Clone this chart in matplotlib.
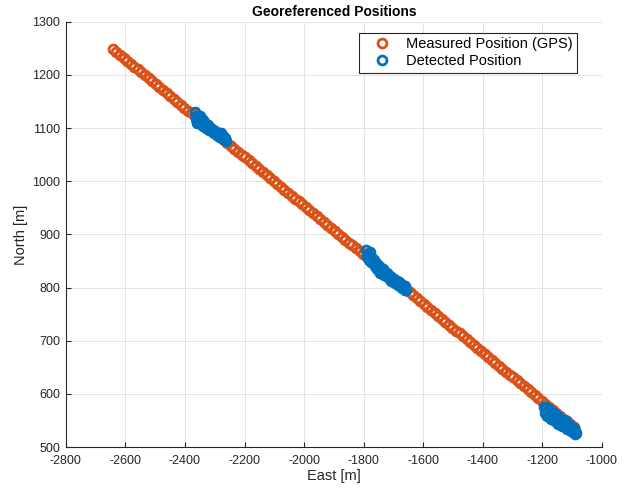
import matplotlib
matplotlib.use("Agg")
import matplotlib.pyplot as plt

plt.rcParams['font.family'] = ['Liberation Sans', 'DejaVu Sans']
plt.rcParams['axes.unicode_minus'] = False

# GPS track (East, North) in metres
gps_east = [
    -2642, -2630, -2618, -2606, -2594, -2582, -2570, -2558, -2546, -2534,
    -2522, -2510, -2498, -2486, -2474, -2462, -2450, -2438, -2426, -2414,
    -2402, -2390, -2378, -2366, -2354, -2342, -2330, -2318, -2306, -2294,
    -2282, -2270, -2258, -2246, -2234, -2222, -2210, -2198, -2186, -2174,
    -2162, -2150, -2138, -2126, -2114, -2102, -2090, -2078, -2066, -2054,
    -2042, -2030, -2018, -2006, -1994, -1982, -1970, -1958, -1946, -1934,
    -1922, -1910, -1898, -1886, -1874, -1862, -1850, -1838, -1826, -1814,
    -1802, -1790, -1778, -1766, -1754, -1742, -1730, -1718, -1706, -1694,
    -1682, -1670, -1658, -1646, -1634, -1622, -1610, -1598, -1586, -1574,
    -1562, -1550, -1538, -1526, -1514, -1502, -1490, -1478, -1466, -1454,
    -1442, -1430, -1418, -1406, -1394, -1382, -1370, -1358, -1346, -1334,
    -1322, -1310, -1298, -1286, -1274, -1262, -1250, -1238, -1226, -1214,
    -1202, -1190, -1178, -1166, -1154, -1142, -1130, -1118, -1106, -1094,
]
gps_north = [
    1249.0, 1243.5, 1238.0, 1232.4, 1226.9, 1221.4, 1215.9, 1210.4, 1204.8, 1199.3,
    1193.8, 1188.3, 1182.8, 1177.2, 1171.7, 1166.2, 1160.7, 1155.2, 1149.6, 1144.1,
    1138.6, 1133.1, 1127.6, 1122.0, 1116.5, 1111.0, 1105.5, 1100.0, 1094.4, 1088.9,
    1083.4, 1077.9, 1072.4, 1066.8, 1061.3, 1055.8, 1050.3, 1044.8, 1039.2, 1033.7,
    1028.2, 1022.7, 1017.2, 1011.6, 1006.1, 1000.6, 995.1, 989.6, 984.0, 978.5,
    973.0, 967.5, 962.0, 956.4, 950.9, 945.4, 939.9, 934.4, 928.8, 923.3,
    917.8, 912.3, 906.8, 901.2, 895.7, 890.2, 884.7, 879.2, 873.6, 868.1,
    862.6, 857.1, 851.6, 846.0, 840.5, 835.0, 829.5, 824.0, 818.4, 812.9,
    807.4, 801.9, 796.4, 790.8, 785.3, 779.8, 774.3, 768.8, 763.2, 757.7,
    752.2, 746.7, 741.2, 735.6, 730.1, 724.6, 719.1, 713.6, 708.0, 702.5,
    697.0, 691.5, 686.0, 680.4, 674.9, 669.4, 663.9, 658.4, 652.8, 647.3,
    641.8, 636.3, 630.8, 625.2, 619.7, 614.2, 608.7, 603.2, 597.6, 592.1,
    586.6, 581.1, 575.6, 570.0, 564.5, 559.0, 553.5, 548.0, 542.4, 536.9,
]

# detected positions, three passes
det_east_1 = [-2366, -2363, -2361, -2358, -2356, -2353, -2351, -2348, -2346, -2343,
              -2341, -2338, -2336, -2333, -2331, -2328, -2325, -2322, -2319, -2316,
              -2313, -2310, -2307, -2304, -2301, -2298, -2295, -2292, -2289, -2286,
              -2283, -2280, -2277, -2274, -2271, -2268, -2265, -2262]
det_north_1 = [1130, 1117, 1122, 1110, 1123, 1116, 1109, 1123, 1111, 1116,
               1104, 1115, 1105, 1108, 1101, 1108, 1101, 1105, 1097, 1101,
               1097, 1099, 1092, 1095, 1090, 1094, 1088, 1090, 1085, 1091,
               1084, 1091, 1084, 1079, 1085, 1079, 1081, 1075]

det_east_2 = [-1792, -1789, -1786, -1783, -1780, -1777, -1774, -1771, -1768, -1765,
              -1762, -1759, -1756, -1753, -1750, -1747, -1744, -1741, -1738, -1735,
              -1732, -1729, -1726, -1723, -1720, -1717, -1714, -1711, -1708, -1705,
              -1702, -1699, -1696, -1693, -1690, -1687, -1684, -1681, -1678, -1675,
              -1672, -1669, -1666, -1663, -1660, -1657]
det_north_2 = [870, 859, 864, 851, 866, 856, 849, 856, 849, 852,
               840, 846, 834, 841, 834, 841, 828, 835, 830, 835,
               823, 828, 823, 828, 819, 822, 818, 822, 812, 817,
               814, 817, 809, 812, 808, 812, 804, 811, 804, 807,
               800, 803, 799, 802, 795, 796]

det_east_3 = [-1194, -1191, -1188, -1185, -1182, -1179, -1176, -1173, -1170, -1167,
              -1164, -1161, -1158, -1155, -1152, -1149, -1146, -1143, -1140, -1137,
              -1134, -1131, -1128, -1125, -1122, -1119, -1116, -1113, -1110, -1107,
              -1104, -1101, -1098, -1095, -1092, -1089, -1086]
det_north_3 = [576, 564, 576, 559, 567, 571, 557, 562, 553, 565,
               555, 564, 549, 558, 549, 559, 544, 551, 545, 553,
               540, 548, 539, 550, 537, 541, 533, 543, 534, 542,
               530, 535, 528, 535, 525, 531, 526]

det_east = det_east_1 + det_east_2 + det_east_3
det_north = det_north_1 + det_north_2 + det_north_3

x_ticks = [-2800, -2600, -2400, -2200, -2000, -1800, -1600, -1400, -1200, -1000]
y_ticks = [500, 600, 700, 800, 900, 1000, 1100, 1200, 1300]

orange = '#D95319'
blue = '#0072BD'
axis_col = '#262626'

fig = plt.figure(figsize=(6.33, 4.91), dpi=100)
ax = fig.add_axes([0.104, 0.0896, 0.847, 0.866])

ax.plot(gps_east, gps_north, 'o', color=orange, mfc='none', ms=6.4, mew=2.0,
        linestyle='none', label='Measured Position (GPS)')
ax.plot(det_east, det_north, 'o', color=blue, mfc='none', ms=6.4, mew=2.0,
        linestyle='none', label='Detected Position')

ax.set_xlim(-2800, -1000)
ax.set_ylim(500, 1300)
ax.set_xticks(x_ticks)
ax.set_yticks(y_ticks)

ax.grid(True, color='#E3E3E3', linewidth=0.7)
ax.set_axisbelow(True)
for side in ['top', 'right']:
    ax.spines[side].set_visible(False)
for side in ['left', 'bottom']:
    ax.spines[side].set_color(axis_col)
    ax.spines[side].set_linewidth(0.8)
ax.tick_params(direction='in', length=3.6, width=0.8, colors=axis_col, labelsize=9)
ax.tick_params(axis='x', pad=6)
ax.tick_params(axis='y', pad=4)

ax.set_xlabel('East [m]', fontsize=10.5, color=axis_col, labelpad=1)
ax.set_ylabel('North [m]', fontsize=10.5, color=axis_col, labelpad=3)
ax.set_title('Georeferenced Positions', fontsize=10, fontweight='bold', pad=4)

leg = ax.legend(loc='upper right', bbox_to_anchor=(0.953, 0.974), borderaxespad=0,
                fontsize=10.5, fancybox=False, framealpha=1, edgecolor=axis_col,
                handlelength=2.6, handletextpad=0.3, borderpad=0.3, labelspacing=0.2)
leg.get_frame().set_linewidth(0.8)

fig.savefig('out.png', dpi=100)
